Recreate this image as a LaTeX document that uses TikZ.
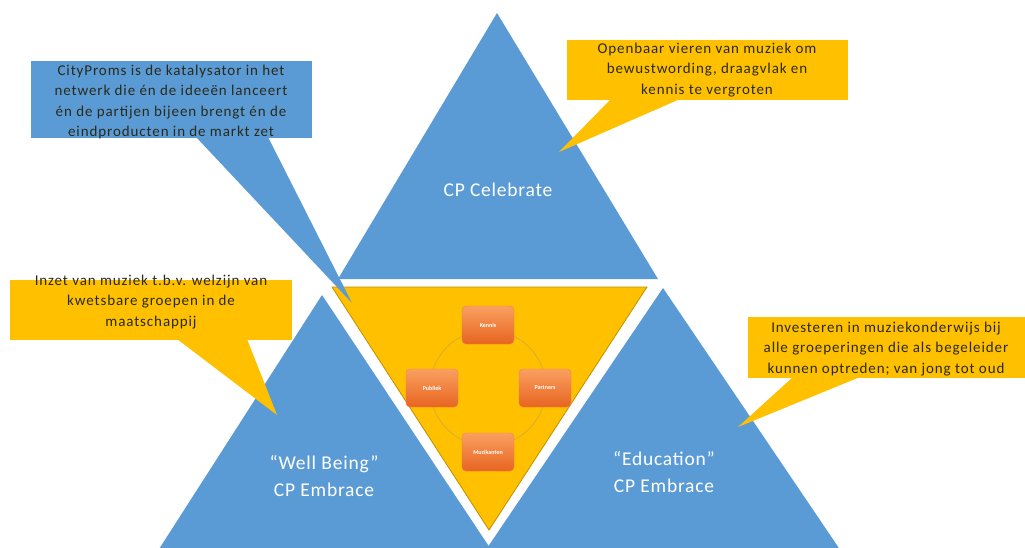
\documentclass[tikz,border=0pt]{standalone}
\usepackage{fontspec}
\setmainfont{Carlito}
\newfontfamily\callfont[LetterSpace=6]{Carlito}
\newfontfamily\labfont[LetterSpace=4]{Carlito}
\definecolor{tblue}{HTML}{5B9BD5}
\definecolor{tyel}{HTML}{FFC000}
\definecolor{tgold}{HTML}{BF9000}
\definecolor{torA}{HTML}{F9A060}
\definecolor{torB}{HTML}{E86420}
\definecolor{tring}{HTML}{D0A838}
\definecolor{ttext}{HTML}{2A2A1A}
\begin{document}
\begin{tikzpicture}[x=1pt,y=-1pt,
  tri/.style={fill=tblue},
  trilabel/.style={text=white,font=\labfont\fontsize{19.5}{27}\selectfont,align=center},
  calltext/.style={text=ttext,font=\callfont\fontsize{15}{20.5}\selectfont,align=center},
  orbox/.style={rounded corners=4pt,minimum width=52pt,minimum height=38pt,inner sep=0pt,
    top color=torA,bottom color=torB,draw=torB!80!white,line width=0.4pt,
    text=white,font=\fontsize{6}{7}\selectfont\bfseries}]
\useasboundingbox (0,0) rectangle (1025,547);
\clip (0,0) rectangle (1025,547);
\fill[white] (0,0) rectangle (1025,547);
% blue triangles
\fill[tri] (497,13) -- (658,279) -- (338,279) -- cycle;
\fill[tri] (322,295) -- (498,560) -- (152,560) -- cycle;
\fill[tri] (663,288) -- (847,560) -- (479,560) -- cycle;
% centre inverted triangle
\fill[tyel,draw=tgold,line width=0.8pt] (332,287) -- (647,287) -- (489,530) -- cycle;
% cycle
\draw[tring,line width=0.6pt] (488,388) circle (58);
\node[orbox] (kennis) at (488,325) {Kennis};
\node[orbox] (publiek) at (432,388) {Publiek};
\node[orbox] (partners) at (545,388) {Partners};
\node[orbox] (muzikanten) at (488,452) {Muzikanten};
% triangle labels
\node[trilabel] (celebrate) at (498,190) {CP Celebrate};
\node[trilabel] (wellbeing) at (324,476) {“Well Being”\\CP Embrace};
\node[trilabel] (education) at (664,472) {“Education”\\CP Embrace};
% callout pointers
\coordinate (tipA) at (352,303);
\coordinate (tipB) at (559,152);
\coordinate (tipC) at (277,415);
\coordinate (tipD) at (738,427);
\fill[tblue] (196,137) -- (tipA) -- (268,137) -- cycle;
\fill[tyel] (611,99) -- (tipB) -- (680,99) -- cycle;
\fill[tyel] (177,339) -- (tipC) -- (247,339) -- cycle;
\fill[tyel] (793,377) -- (tipD) -- (860,377) -- cycle;
% callout boxes
\fill[tblue] (31,61) rectangle (312,138);
\fill[tyel] (567,40) rectangle (848,100);
\fill[tyel] (10,280) rectangle (292,340);
\fill[tyel] (748,317) rectangle (1025,378);
\node[calltext] (calA) at (171,102) {CityProms is de katalysator in het\\netwerk die én de ideeën lanceert\\én de partijen bijeen brengt én de\\eindproducten in de markt zet};
\node[calltext] (calB) at (707,70) {Openbaar vieren van muziek om\\bewustwording, draagvlak en\\kennis te vergroten};
\node[calltext] (calC) at (151,302) {Inzet van muziek t.b.v. welzijn van\\kwetsbare groepen in de\\maatschappij};
\node[calltext] (calD) at (886,349) {Investeren in muziekonderwijs bij\\alle groeperingen die als begeleider\\kunnen optreden; van jong tot oud};
\end{tikzpicture}
\end{document}
